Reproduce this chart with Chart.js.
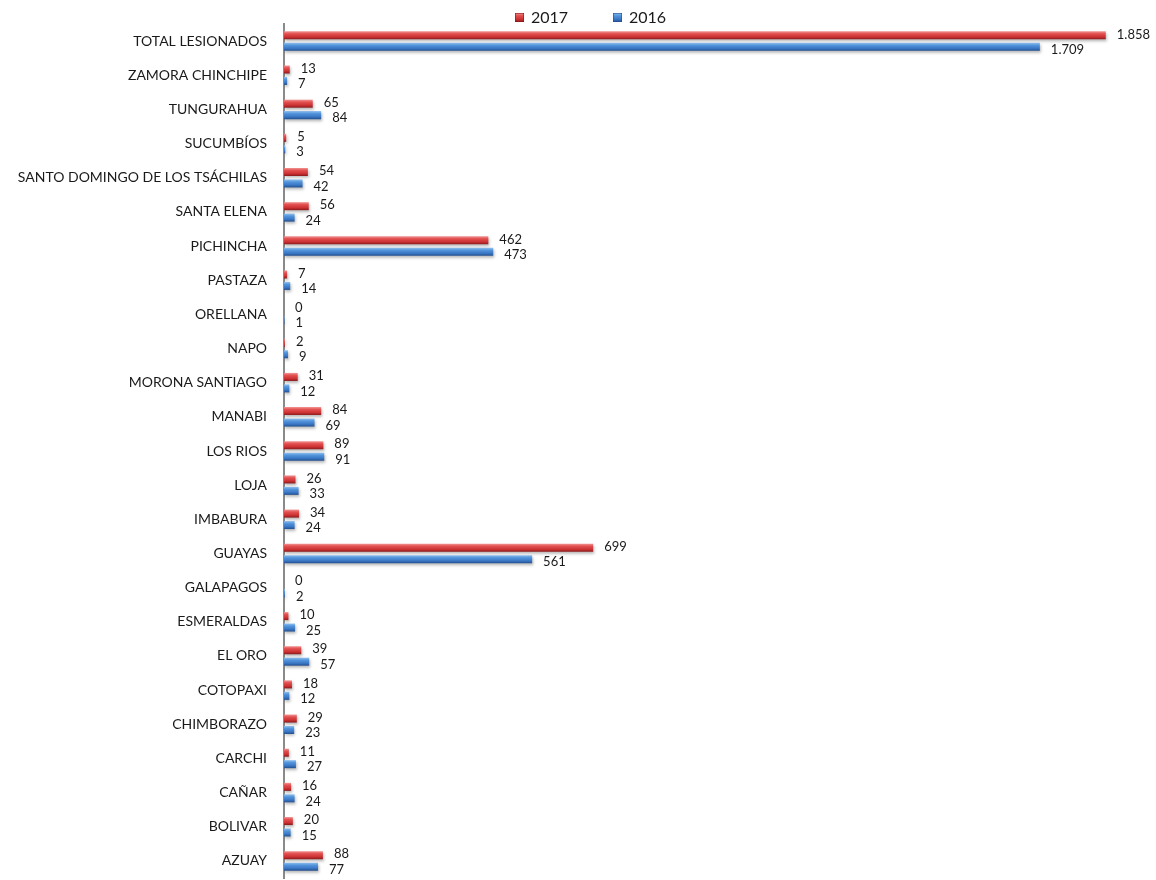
<!DOCTYPE html>
<html>
<head>
<meta charset="utf-8">
<script src="https://cdn.jsdelivr.net/npm/chart.js@4/dist/chart.umd.min.js"></script>
<style>
  html, body { margin: 0; padding: 0; background: #fff; }
  #wrap { width: 1156px; height: 880px; position: relative; }
</style>
</head>
<body>
<div id="wrap"><canvas id="lesionChart"></canvas></div>
<script>
const provincias = [
    'TOTAL LESIONADOS', 'ZAMORA CHINCHIPE', 'TUNGURAHUA', 'SUCUMBÍOS',
    'SANTO DOMINGO DE LOS TSÁCHILAS', 'SANTA ELENA', 'PICHINCHA', 'PASTAZA',
    'ORELLANA', 'NAPO', 'MORONA SANTIAGO', 'MANABI', 'LOS RIOS', 'LOJA',
    'IMBABURA', 'GUAYAS', 'GALAPAGOS', 'ESMERALDAS', 'EL ORO', 'COTOPAXI',
    'CHIMBORAZO', 'CARCHI', 'CAÑAR', 'BOLIVAR', 'AZUAY'
];
const lesionados2017 = [1858, 13, 65, 5, 54, 56, 462, 7, 0, 2, 31, 84, 89, 26, 34, 699, 0, 10, 39, 18, 29, 11, 16, 20, 88];
const lesionados2016 = [1709, 7, 84, 3, 42, 24, 473, 14, 1, 9, 12, 69, 91, 33, 24, 561, 2, 25, 57, 12, 23, 27, 24, 15, 77];
const seriesNames = ['2017', '2016'];

const CAT_PCT = 0.67;
const BAR_PCT = 0.70;

const redStops = [[0, '#f29494'], [0.3, '#e25050'], [0.7, '#cc3133'], [1, '#8a1a1c']];
const blueStops = [[0, '#94c4f2'], [0.3, '#5395dc'], [0.7, '#3a76c4'], [1, '#22508e']];

function barGradient(stops, fallback) {
    return function (context) {
        const chart = context.chart;
        const yScale = chart.scales.y;
        if (!chart.chartArea || !yScale || context.dataIndex === undefined) return fallback;
        const c = yScale.getPixelForValue(context.dataIndex);
        const step = Math.abs(yScale.getPixelForValue(1) - yScale.getPixelForValue(0));
        const slot = step * CAT_PCT / 2;
        const center = context.datasetIndex === 0 ? c - slot / 2 : c + slot / 2;
        const h = slot * BAR_PCT;
        const g = chart.ctx.createLinearGradient(0, center - h / 2, 0, center + h / 2);
        stops.forEach(s => g.addColorStop(s[0], s[1]));
        return g;
    };
}

function fmt(v) {
    return v.toString().replace(/\B(?=(\d{3})+(?!\d))/g, '.');
}

// sombras bajo las barras
const shadowPlugin = {
    id: 'shadow',
    beforeDatasetsDraw(chart) {
        const ctx = chart.ctx;
        ctx.save();
        ctx.shadowColor = 'rgba(0,0,0,0.28)';
        ctx.shadowBlur = 3;
        ctx.shadowOffsetX = 1;
        ctx.shadowOffsetY = 2;
    },
    afterDatasetsDraw(chart) {
        chart.ctx.restore();
    }
};

// etiquetas de valores
const valueLabels = {
    id: 'valueLabels',
    afterDatasetsDraw(chart) {
        const ctx = chart.ctx;
        ctx.save();
        ctx.font = '13px Lato, "Open Sans", sans-serif';
        ctx.fillStyle = '#1a1a1a';
        ctx.textAlign = 'left';
        ctx.textBaseline = 'middle';
        chart.data.datasets.forEach((ds, di) => {
            const meta = chart.getDatasetMeta(di);
            meta.data.forEach((bar, i) => {
                const dy = di === 0 ? -1 : 3;
                ctx.fillText(fmt(ds.data[i]), bar.x + 11, bar.y + dy);
            });
        });
        ctx.restore();
    }
};

// leyenda
const legendPlugin = {
    id: 'customLegend',
    afterDraw(chart) {
        const ctx = chart.ctx;
        const items = [
            { x: 515, stops: redStops, border: '#8a1a1c' },
            { x: 613, stops: blueStops, border: '#22508e' }
        ];
        ctx.save();
        ctx.font = '16px Lato, "Open Sans", sans-serif';
        ctx.textBaseline = 'middle';
        items.forEach((it, k) => {
            const g = ctx.createLinearGradient(0, 13, 0, 22);
            it.stops.forEach(s => g.addColorStop(s[0], s[1]));
            ctx.fillStyle = g;
            ctx.fillRect(it.x, 13, 9, 9);
            ctx.strokeStyle = it.border;
            ctx.lineWidth = 0.6;
            ctx.strokeRect(it.x + 0.3, 13.3, 8.4, 8.4);
            ctx.fillStyle = '#1a1a1a';
            ctx.fillText(seriesNames[k], it.x + 16, 18);
        });
        ctx.restore();
    }
};

const ctx = document.getElementById('lesionChart').getContext('2d');
const lesionChart = new Chart(ctx, {
    type: 'bar',
    data: {
        labels: provincias,
        datasets: [
            {
                label: seriesNames[0],
                data: lesionados2017,
                backgroundColor: barGradient(redStops, '#d93a3b'),
                borderWidth: 0,
                categoryPercentage: CAT_PCT,
                barPercentage: BAR_PCT
            },
            {
                label: seriesNames[1],
                data: lesionados2016,
                backgroundColor: barGradient(blueStops, '#4a86d0'),
                borderWidth: 0,
                categoryPercentage: CAT_PCT,
                barPercentage: BAR_PCT
            }
        ]
    },
    options: {
        indexAxis: 'y',
        responsive: true,
        maintainAspectRatio: false,
        animation: false,
        layout: {
            padding: { top: 24, bottom: 2, left: 0, right: 6 }
        },
        plugins: {
            legend: { display: false },
            tooltip: { enabled: false },
            title: { display: false }
        },
        scales: {
            x: {
                display: false,
                min: 0,
                max: 1958
            },
            y: {
                grid: { display: false, drawTicks: false },
                border: { display: true, color: '#8a8a8a', width: 2 },
                ticks: {
                    color: '#1a1a1a',
                    padding: 17,
                    font: { family: 'Lato, "Open Sans", sans-serif', size: 14 }
                },
                afterFit(scale) {
                    scale.width = 284;
                    scale.paddingTop = 0;
                    scale.paddingBottom = 0;
                }
            }
        }
    },
    plugins: [shadowPlugin, valueLabels, legendPlugin]
});
</script>
</body>
</html>
